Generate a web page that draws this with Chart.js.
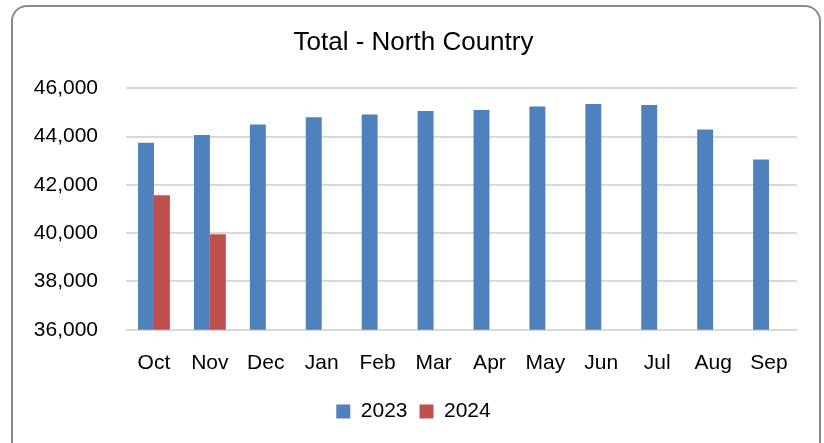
<!doctype html>
<html lang="en">
<head>
  <meta charset="utf-8">
  <title>Total - North Country</title>
  <script src="https://cdn.jsdelivr.net/npm/chart.js"></script>
  <style>
    html, body { margin: 0; padding: 0; background: #fff; overflow: hidden; }
    #wrap { position: relative; width: 824px; height: 443px; }
    #frame { position: absolute; left: 11px; top: 5px; width: 810px; height: 470px;
             border: 2px solid #8a8a8a; border-radius: 16px; box-sizing: border-box; }
    canvas { position: absolute; left: 0; top: 0; }
  </style>
</head>
<body>
<div id="wrap">
  <div id="frame"></div>
  <canvas id="chart" width="824" height="443"></canvas>
</div>
<script>
var months = ['Oct', 'Nov', 'Dec', 'Jan', 'Feb', 'Mar', 'Apr', 'May', 'Jun', 'Jul', 'Aug', 'Sep'];
var total2023 = [43740, 44060, 44500, 44800, 44910, 45060, 45100, 45240, 45350, 45300, 44290, 43050];
var total2024 = [41570, 39950, null, null, null, null, null, null, null, null, null, null];

var font = "'Liberation Sans', Arial, sans-serif";
Chart.defaults.font.family = font;
Chart.defaults.color = '#000';

new Chart(document.getElementById('chart'), {
  type: 'bar',
  data: {
    labels: months,
    datasets: [{
      label: '2023',
      data: total2023,
      backgroundColor: '#4F81BD'
    },
    {
      label: '2024',
      data: total2024,
      backgroundColor: '#C0504D'
    }]
  },
  options: {
    responsive: false,
    animation: false,
    // left padding nudges title and legend to the right, like the original
    layout: { padding: { left: 30, right: 27, top: 0, bottom: 11 } },
    datasets: { bar: { categoryPercentage: 0.57, barPercentage: 1 } },
    plugins: {
      title: {
        display: true,
        text: 'Total - North Country',
        font: { size: 26, weight: 'normal' },
        padding: { top: 27, bottom: 30 }
      },
      legend: {
        position: 'bottom',
        labels: { boxWidth: 14, boxHeight: 14, padding: 12, font: { size: 21 } }
      },
      tooltip: { enabled: false }
    },
    scales: {
      x: {
        grid: { display: false },
        border: { display: false },
        ticks: { font: { size: 21 }, padding: 13 }
      },
      y: {
        min: 36000,
        max: 46000,
        afterFit: function(scale) { scale.width = 96; },
        grid: { color: '#d9d9d9', lineWidth: 2, drawTicks: false },
        border: { display: false },
        ticks: {
          stepSize: 2000,
          padding: 28,
          font: { size: 21 },
          callback: function(v) { return v.toLocaleString('en-US'); }
        }
      }
    }
  }
});
</script>
</body>
</html>
